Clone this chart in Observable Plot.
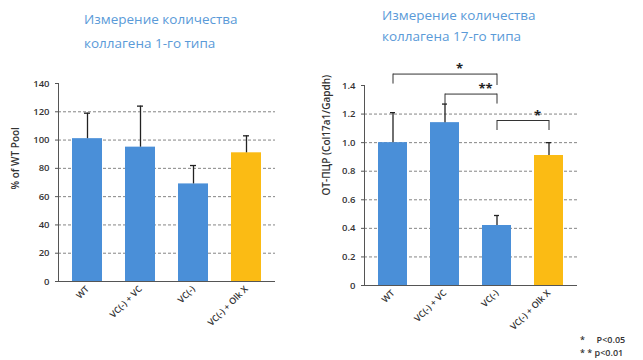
<!DOCTYPE html>
<html>
<head>
<meta charset="utf-8">
<script src="https://cdn.jsdelivr.net/npm/d3@7"></script>
<script src="https://cdn.jsdelivr.net/npm/@observablehq/plot@0.6"></script>
<style>
  html, body { margin: 0; padding: 0; background: #fff; }
  #chart { position: relative; width: 643px; height: 360px; overflow: hidden; font-family: "Open Sans", "DejaVu Sans", sans-serif; }
  .title { position: absolute; color: #5a9ad8; font-size: 13.5px; white-space: nowrap; }
  .panel { position: absolute; }
  .note { position: absolute; font-size: 9px; line-height: 10px; color: #333; white-space: pre; font-weight: 600; }
</style>
</head>
<body>
<div id="chart">
  <div class="title" style="left:84px; top:7px; line-height:24px;">Измерение количества<br>коллагена 1-го типа</div>
  <div class="title" style="left:382px; top:5px; line-height:21px;">Измерение количества<br>коллагена 17-го типа</div>
  <div class="panel" id="left" style="left:0px; top:70px;"></div>
  <div class="panel" id="right" style="left:320px; top:60px;"></div>
  <div class="note" style="left:580px; top:335px;">*     P&lt;0.05</div>
  <div class="note" style="left:580px; top:348px;">* * p&lt;0.01</div>
</div>
<script>
// Groups shared by both panels
const groups = ["WT", "VC(-) + VC", "VC(-)", "VC(-) + Olk X"];
const barColors = ["#4a8fd8", "#4a8fd8", "#4a8fd8", "#fbbb14"];

// Collagen type I, % of WT
const col1Mean = [101, 95, 69, 91];
const col1Err = [18, 29, 13, 12];
const col1Ticks = [0, 20, 40, 60, 80, 100, 120, 140];

// Collagen type XVII, qPCR Col17a1/Gapdh
const col17Mean = [1.0, 1.14, 0.42, 0.91];
const col17Err = [0.21, 0.13, 0.07, 0.09];
const col17Ticks = [0, 0.2, 0.4, 0.6, 0.8, 1.0, 1.2, 1.4];
const col17TickLabels = ["0", "0.2", "0.4", "0.6", "0.8", "1.0", "1.2", "1.4"];

// Significance brackets: compared groups, bracket level, leg ends, label
const sigFrom = ["WT", "VC(-) + VC", "VC(-)"];
const sigTo = ["VC(-)", "VC(-)", "VC(-) + Olk X"];
const sigLevel = [1.48, 1.34, 1.155];
const sigLeftEnd = [1.41, 1.27, 1.085];
const sigRightEnd = [1.40, 1.27, 1.085];
const sigLabel = ["*", "**", "*"];

const rows1 = groups.map((g, i) => ({g, v: col1Mean[i], hi: col1Mean[i] + col1Err[i], c: barColors[i]}));
const rows17 = groups.map((g, i) => ({g, v: col17Mean[i], hi: col17Mean[i] + col17Err[i], c: barColors[i]}));

const axisColor = "#555";
const gridStyle = {stroke: "#666", strokeDasharray: "3,2", strokeOpacity: 0.8, strokeWidth: 1};

function panel({rows, ticks, tickFormat, domain, width, height, marginLeft, marginRight, marginTop, marginBottom, po, yLabel, labelX, labelDy, extra}) {
  return Plot.plot({
    width, height, marginLeft, marginRight, marginTop, marginBottom,
    style: {fontFamily: "'Open Sans', 'DejaVu Sans', sans-serif", fontSize: "9px", color: "#333", overflow: "visible"},
    x: {domain: groups, paddingInner: 0.44, paddingOuter: po, label: null},
    y: {domain, label: null},
    marks: [
      Plot.ruleY(ticks.filter(t => t > 0 && t < domain[1]), {...gridStyle}),
      Plot.barY(rows, {x: "g", y: "v", fill: "c"}),
      Plot.ruleX(rows, {x: "g", y1: "v", y2: "hi", stroke: "#222", strokeWidth: 1.3}),
      Plot.tickY(rows, {x: "g", y: "hi", stroke: "#222", strokeWidth: 1.3, insetLeft: 12, insetRight: 12}),
      Plot.axisY({ticks, tickFormat, tickSize: 3, stroke: axisColor, label: null, fontSize: 9.5, fontWeight: 600}),
      Plot.frame({anchor: "left", stroke: axisColor}),
      Plot.ruleY([0], {stroke: axisColor, strokeWidth: 1.2}),
      Plot.axisX({tickSize: 0, tickRotate: -45, tickPadding: 6, label: null, fontSize: 9, fontWeight: 600, textAnchor: "end"}),
      Plot.text([yLabel], {text: d => d, frameAnchor: "left", dx: labelX, dy: labelDy, rotate: -90, fontSize: 10, fontWeight: 600, fill: "#333"}),
      ...(extra || [])
    ]
  });
}

document.getElementById("left").append(panel({
  rows: rows1, ticks: col1Ticks, tickFormat: d => String(d), domain: [0, 140],
  width: 290, height: 290, marginLeft: 58, marginRight: 15, marginTop: 13, marginBottom: 79,
  po: 0.25, yLabel: "% of WT Pool", labelX: -43, labelDy: 7
}));

const sig = sigFrom.map((f, i) => ({f, t: sigTo[i], y: sigLevel[i], l: sigLeftEnd[i], r: sigRightEnd[i], s: sigLabel[i]}));
const bracketMarks = [
  Plot.link(sig, {x1: "f", x2: "t", y1: "y", y2: "y", stroke: "#333", strokeWidth: 1}),
  Plot.ruleX(sig, {x: "f", y1: "l", y2: "y", stroke: "#333", strokeWidth: 1}),
  Plot.ruleX(sig, {x: "t", y1: "r", y2: "y", stroke: "#333", strokeWidth: 1}),
  // Labels sit midway between the two compared bars
  Plot.text(sig, {
    x: "f", y: "y", text: "s", dy: -5, fontSize: 13, fontWeight: "bold", fill: "#222",
    render(index, scales, values, dims, context, next) {
      const X = Float64Array.from(index, i => (scales.x(sig[i].f) + scales.x(sig[i].t)) / 2 + scales.x.bandwidth() / 2);
      return next(index, scales, {...values, x: X}, dims, context);
    }
  })
];

document.getElementById("right").append(panel({
  rows: rows17, ticks: col17Ticks, tickFormat: (d, i) => col17TickLabels[i], domain: [0, 1.4],
  width: 323, height: 300, marginLeft: 44, marginRight: 66, marginTop: 25, marginBottom: 75,
  po: 0.23, yLabel: "ОТ-ПЦР (Col17a1/Gapdh)", labelX: -38, labelDy: 10,
  extra: bracketMarks
}));
</script>
</body>
</html>
